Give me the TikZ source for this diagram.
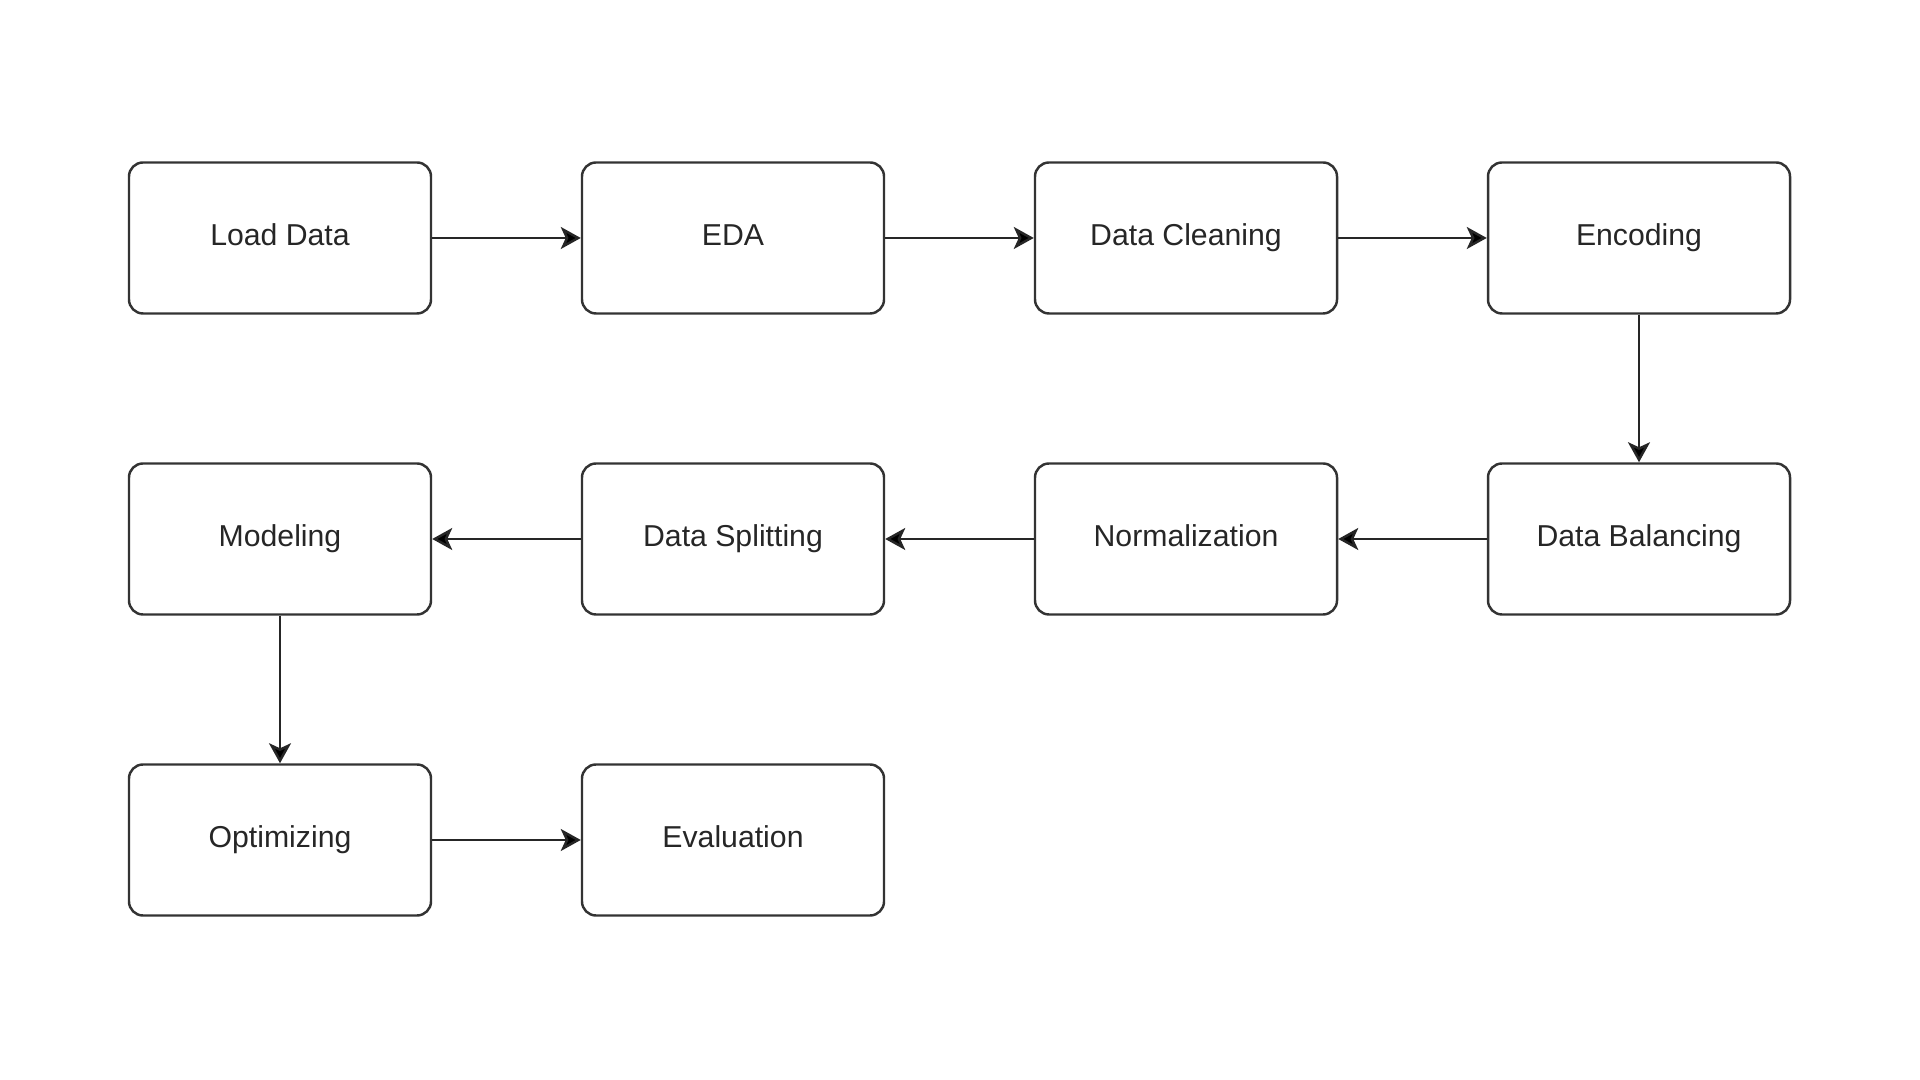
\documentclass[tikz,border=0pt]{standalone}
\usepackage{fontspec}
\setmainfont{Liberation Sans}
\usepackage{tikz}
\usetikzlibrary{arrows.meta}

\begin{document}
\begin{tikzpicture}[->,>={Stealth[length=0.2cm,width=0.22cm,inset=0.05cm]},line width=0.7pt,
            step box/.style={draw=black!80,rounded corners=0.14cm,
            minimum width=3.02cm,minimum height=1.51cm,
            text height=6.2pt,text depth=1.9pt,
            font=\fontsize{8.6}{10}\selectfont,text=black!85}]

          \useasboundingbox (0,0) rectangle (19.2,10.8);

          \node[step box] (load)  at ( 2.80, 8.42) {Load Data};
          \node[step box] (eda)   at ( 7.33, 8.42) {EDA};
          \node[step box] (clean) at (11.86, 8.42) {Data Cleaning};
          \node[step box] (enc)   at (16.39, 8.42) {Encoding};
          \node[step box] (bal)   at (16.39, 5.41) {Data Balancing};
          \node[step box] (norm)  at (11.86, 5.41) {Normalization};
          \node[step box] (split) at ( 7.33, 5.41) {Data Splitting};
          \node[step box] (model) at ( 2.80, 5.41) {Modeling};
          \node[step box] (opt)   at ( 2.80, 2.40) {Optimizing};
          \node[step box] (eval)  at ( 7.33, 2.40) {Evaluation};

          \path[draw=black!85] (load)  edge (eda)
                (eda)   edge (clean)
                (clean) edge (enc)
                (enc)   edge (bal)
                (bal)   edge (norm)
                (norm)  edge (split)
                (split) edge (model)
                (model) edge (opt)
                (opt)   edge (eval);
        \end{tikzpicture}
\end{document}
